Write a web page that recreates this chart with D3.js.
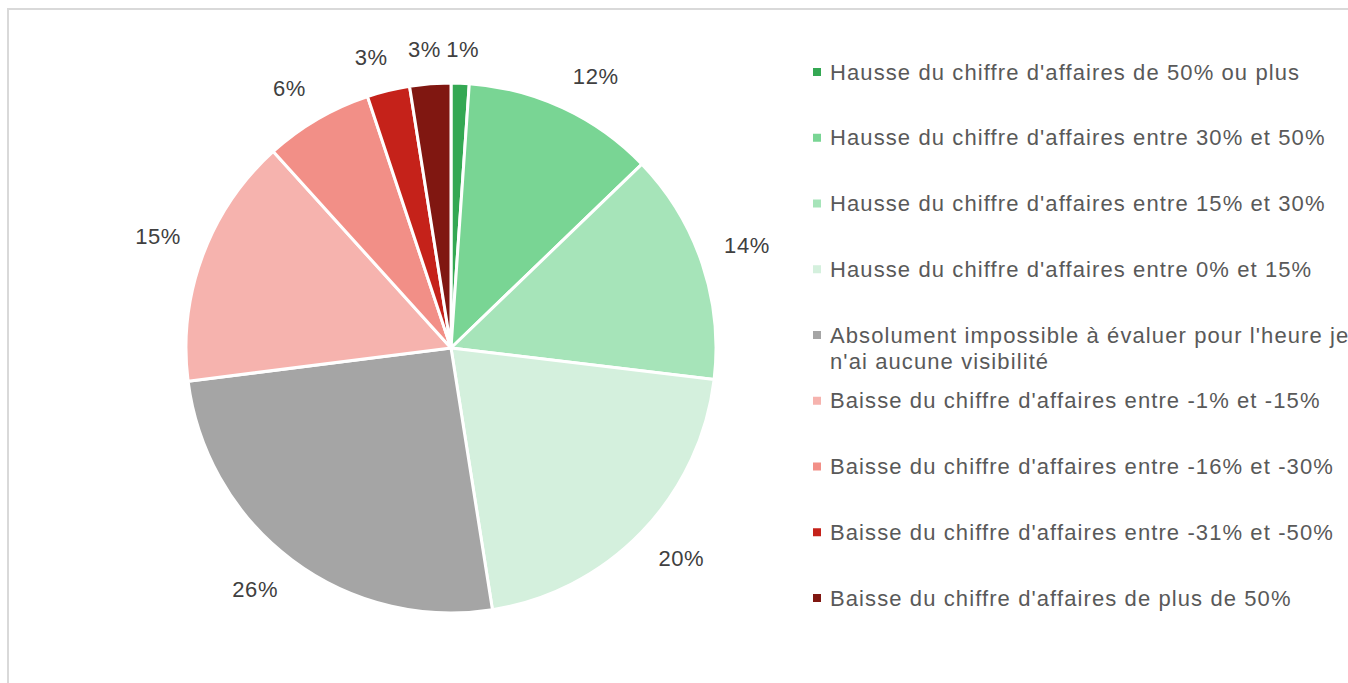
<!DOCTYPE html>
<html>
<head>
<meta charset="utf-8">
<script src="https://cdn.jsdelivr.net/npm/d3@7"></script>
<style>
  body { margin: 0; background: #fff; overflow: hidden; }
  svg { display: block; font-family: "Liberation Sans", Arial, sans-serif; }
</style>
</head>
<body>
<div id="chart"></div>
<script>
// categories, in clockwise order from 12 o'clock
const categories = [
  "Hausse du chiffre d'affaires de 50% ou plus",
  "Hausse du chiffre d'affaires entre 30% et 50%",
  "Hausse du chiffre d'affaires entre 15% et 30%",
  "Hausse du chiffre d'affaires entre 0% et 15%",
  "Absolument impossible à évaluer pour l'heure je|n'ai aucune visibilité",
  "Baisse du chiffre d'affaires entre -1% et -15%",
  "Baisse du chiffre d'affaires entre -16% et -30%",
  "Baisse du chiffre d'affaires entre -31% et -50%",
  "Baisse du chiffre d'affaires de plus de 50%"
];
// share of answers (%)
const values = [1.1, 11.7, 14.1, 20.6, 25.5, 15.3, 6.6, 2.6, 2.5];
// printed labels
const labels = ["1%", "12%", "14%", "20%", "26%", "15%", "6%", "3%", "3%"];
const colors = ["#34a853", "#79d594", "#a6e4b9", "#d4f0dd", "#a5a5a5",
                "#f6b3ae", "#f28f87", "#c5221a", "#801711"];

const width = 1348, height = 683;
const cx = 451, cy = 348, radius = 265;
const fontSize = 22;

const svg = d3.select("#chart").append("svg")
  .attr("width", width)
  .attr("height", height);

// chart frame (only top and left edges show)
svg.append("path")
  .attr("d", "M8,683 L8,9 L1348,9")
  .attr("fill", "none")
  .attr("stroke", "#d9d9d9")
  .attr("stroke-width", 2);

const g = svg.append("g").attr("transform", "translate(" + cx + "," + cy + ")");

const pie = d3.pie().sort(null).value(d => d);
const arcs = pie(values);

const arc = d3.arc().innerRadius(0).outerRadius(radius);

g.selectAll("path.slice")
  .data(arcs)
  .enter()
  .append("path")
  .attr("class", "slice")
  .attr("d", arc)
  .attr("fill", (d, i) => colors[i])
  .attr("stroke", "white")
  .attr("stroke-width", 3)
  .attr("stroke-linejoin", "round");

// outside-end labels: the label box hangs off a point just past the rim,
// its nearest edge/corner sitting on the slice's mid-angle ray
const labelSel = g.selectAll("text.pct")
  .data(arcs)
  .enter()
  .append("text")
  .attr("class", "pct")
  .attr("text-anchor", "middle")
  .attr("dominant-baseline", "central")
  .attr("font-size", fontSize)
  .attr("letter-spacing", 0.6)
  .attr("fill", "#404040")
  .text((d, i) => labels[i]);

const clamp = v => Math.max(-1, Math.min(1, v));
labelSel.each(function(d) {
  const w = this.getComputedTextLength();
  const h = 22;
  const a = (d.startAngle + d.endAngle) / 2;
  const s = Math.sin(a), c = Math.cos(a);
  const r = radius + 23;
  const x = r * s + (w / 2) * clamp(3 * s);
  const y = -r * c - (h / 2) * clamp(3 * c);
  d3.select(this).attr("x", x).attr("y", y);
});

// legend
const legendY = d3.scalePoint()
  .domain(d3.range(categories.length))
  .range([72, 598]);

const legend = svg.append("g").selectAll("g")
  .data(categories)
  .enter()
  .append("g")
  .attr("transform", (d, i) => "translate(813," + legendY(i) + ")");

legend.append("rect")
  .attr("x", 0)
  .attr("y", -4)
  .attr("width", 8)
  .attr("height", 8)
  .attr("fill", (d, i) => colors[i]);

legend.append("text")
  .attr("font-size", fontSize)
  .attr("letter-spacing", 1.1)
  .attr("fill", "#595959")
  .selectAll("tspan")
  .data(d => d.split("|"))
  .enter()
  .append("tspan")
  .attr("x", 17)
  .attr("y", (d, j) => j * 26)
  .attr("dominant-baseline", "central")
  .text(d => d);
</script>
</body>
</html>
